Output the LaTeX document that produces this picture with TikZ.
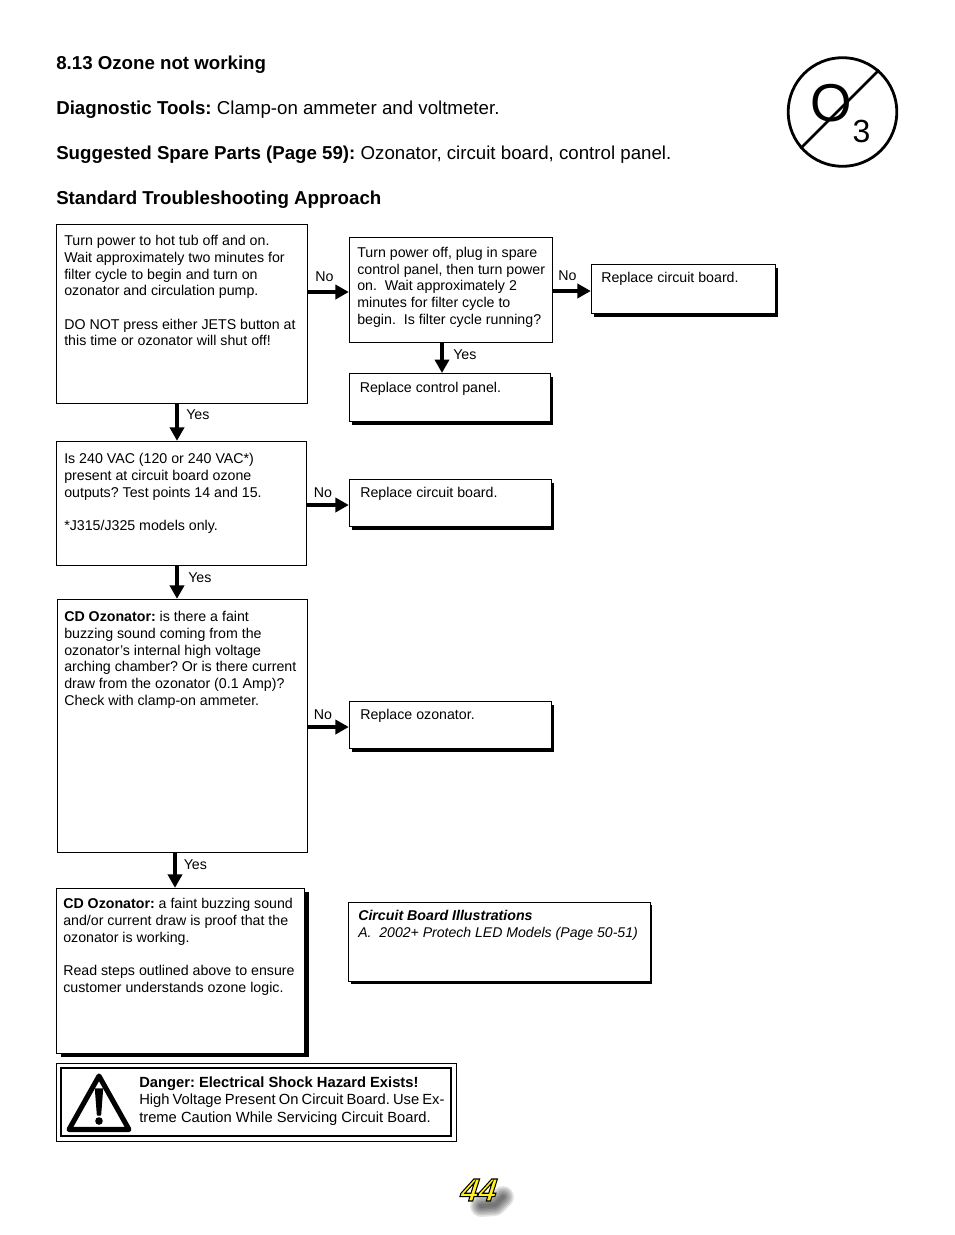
\documentclass[tikz,border=0pt]{standalone}
\usepackage{fontspec}
\setmainfont{Liberation Sans}
\usetikzlibrary{arrows.meta,shadows}
\newcommand{\bodyfs}{\fontsize{10.65}{12.55}\selectfont\frenchspacing}
\newcommand{\pagefs}{\fontsize{24}{24}\selectfont\bfseries\itshape}
\definecolor{pageyellow}{RGB}{255,240,30}
\tikzset{
  x=0.75pt,y=-0.75pt,
  boxbase/.style={draw=black,line width=0.75pt,fill=white,anchor=north west,inner sep=0pt},
  body/.style={anchor=north west,inner sep=0pt,align=left,font=\bodyfs},
  head/.style={anchor=base west,inner sep=0pt,font=\fontsize{14.02}{16}\selectfont\frenchspacing},
  lab/.style={inner sep=0pt,anchor=base west,font=\bodyfs},
  shadowed/.style={general shadow={fill=black,shadow xshift=2.25pt,shadow yshift=-2.25pt}},
  flow/.style={-{Triangle[length=10pt,width=10.5pt]},line width=2.9pt},
}
\newcommand{\szbox}[6][]{\node[boxbase,#1,minimum width=#4*0.75pt,minimum height=#5*0.75pt] (#2) at #3 {};\node[body] (#2t) at #6}
\begin{document}
\begin{tikzpicture}
\useasboundingbox (0,0) rectangle (954,1235);
\fill[white] (0,0) rectangle (954,1235);

% headings
\node[head] (h1) at (56,69) {\textbf{8.13 Ozone not working}};
\node[head] (h2) at (56,114) {\textbf{Diagnostic Tools:} Clamp-on ammeter and voltmeter.};
\node[head] (h3) at (56,159) {\textbf{Suggested Spare Parts (Page 59):} Ozonator, circuit board, control panel.};
\node[head] (h4) at (56,204) {\textbf{Standard Troubleshooting Approach}};

% O3 symbol
\node[circle,draw=black,line width=2.1pt,minimum size=81.5pt,inner sep=0pt] (sym) at (842.5,112) {};
\node[inner sep=0pt,font=\fontsize{40}{40}\selectfont] (oh) at (831.5,103.5) {O};
\node[inner sep=0pt,font=\fontsize{24}{24}\selectfont] (three) at (861.5,131) {3};
\draw[line width=1.9pt] (sym.221) -- (sym.49);

% boxes
\szbox{b1}{(56,223.8)}{250.5}{178.7}{(64,235)} {Turn power to hot tub off and on.\\Wait approximately two minutes for\\filter cycle to begin and turn on\\ozonator and circulation pump.\\[\baselineskip]DO NOT press either JETS button at\\this time or ozonator will shut off!};
\szbox{b2}{(348.8,237)}{202.7}{105}{(357,246.8)} {Turn power off, plug in spare\\control panel, then turn power\\on.\ \ Wait approximately 2\\minutes for filter cycle to\\begin.\ \ Is filter cycle running?};
\szbox[shadowed]{b3}{(590.8,264)}{184}{49}{(601,271.5)} {Replace circuit board.};
\szbox[shadowed]{b4}{(348.8,373)}{201}{48}{(359.5,382)} {Replace control panel.};
\szbox{b5}{(56,440.8)}{250}{124}{(64,453)} {Is 240 VAC (120 or 240 VAC*)\\present at circuit board ozone\\outputs? Test points 14 and 15.\\[\baselineskip]*J315/J325 models only.};
\szbox[shadowed]{b6}{(348.8,479)}{202}{47}{(360,487)} {Replace circuit board.};
\szbox{b7}{(56.5,598.8)}{250}{253.5}{(64,611)} {\textbf{CD Ozonator:} is there a faint\\buzzing sound coming from the\\ozonator’s internal high voltage\\arching chamber? Or is there current\\draw from the ozonator (0.1 Amp)?\\Check with clamp-on ammeter.};
\szbox[shadowed]{b8}{(348.8,701)}{202}{47}{(360,709)} {Replace ozonator.};
\szbox[general shadow={fill=black,shadow xshift=3.4pt,shadow yshift=-2.6pt}]{b9}{(56,887.8)}{247.5}{165}{(63,898)} {\textbf{CD Ozonator:} a faint buzzing sound\\and/or current draw is proof that the\\ozonator is working.\\[\baselineskip]Read steps outlined above to ensure\\customer understands ozone logic.};
\szbox[general shadow={fill=black,shadow xshift=1.5pt,shadow yshift=-1.5pt}]{b10}{(348,902)}{301.5}{79}{(358,910)} {\textbf{\itshape Circuit Board Illustrations}\\\fontsize{10.55}{12.55}\selectfont\itshape A.\ \ 2002+ Protech LED Models (Page 50-51)};

% connectors
\draw[flow] (b1.east |- 0,292) coordinate (c1) -- (c1 -| b2.west);
\draw[flow] (b2.east |- 0,291) coordinate (c2) -- (c2 -| b3.west);
\draw[flow] (442,342) coordinate (c3) -- (c3 |- b4.north);
\draw[flow] (177,403) coordinate (c4) -- (c4 |- b5.north);
\draw[flow] (b5.east |- 0,505) coordinate (c5) -- (c5 -| b6.west);
\draw[flow] (177,565) coordinate (c6) -- (c6 |- b7.north);
\draw[flow] (b7.east |- 0,727) coordinate (c7) -- (c7 -| b8.west);
\draw[flow] (175,853) coordinate (c8) -- (c8 |- b9.north);

% connector labels
\node[lab] (n1) at (315,281) {No};
\node[lab] (n2) at (558,280) {No};
\node[lab] (y1) at (453,359) {Yes};
\node[lab] (y2) at (186,419) {Yes};
\node[lab] (n3) at (313.5,497) {No};
\node[lab] (y3) at (188,582) {Yes};
\node[lab] (n4) at (313.5,719) {No};
\node[lab] (y4) at (183.5,869) {Yes};

% danger box
\node[boxbase,minimum width=399.5*0.75pt,minimum height=77.5*0.75pt] (d0) at (56,1063) {};
\node[boxbase,line width=1.6pt,minimum width=390*0.75pt,minimum height=68*0.75pt] (d1) at (60,1067) {};
\draw[line width=3.8pt,line join=round,fill=white] (99,1076) -- (129,1129.5) -- (69,1129.5) -- cycle;
\draw[fill=black,line width=1pt,line join=round] (95.5,1089) -- (102.5,1089) -- (100.5,1115) -- (97.5,1115) -- cycle;
\fill (99,1121) circle (3.8);
\node[body,font=\fontsize{11.05}{13.1}\selectfont\frenchspacing] (dt) at (139,1076.5) {\textbf{Danger: Electrical Shock Hazard Exists!}\\{\spaceskip=2.35pt plus 0pt\relax High Voltage Present On Circuit Board. Use Ex-}\\treme Caution While Servicing Circuit Board.};

% page number
\foreach \w in {22,19,16,13,10,7,4}
  \draw[line width=\w*0.75pt,line cap=round,line join=round,opacity=.1] (481,1206) -- (495,1205) -- (503,1197);
\node[inner sep=0pt,text=pageyellow,xslant=0.12,font=\pagefs] (pn) at (479,1190) {\special{pdf:code 2 Tr 0.8 w 0 0 0 RG}44\special{pdf:code 0 Tr}};
\end{tikzpicture}
\end{document}
